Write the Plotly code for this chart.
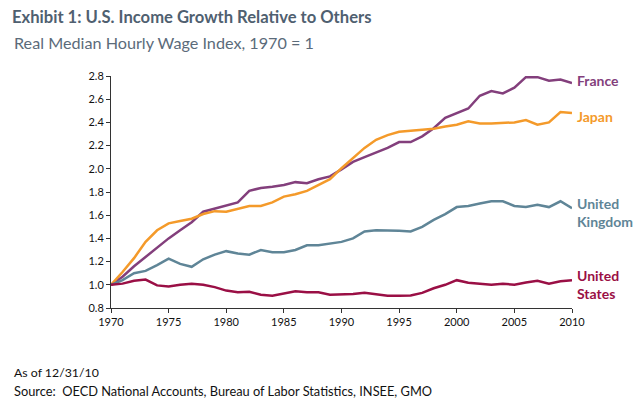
import plotly.graph_objects as go

years = list(range(1970, 2011))

france = [1.00, 1.07, 1.16, 1.24, 1.32, 1.40, 1.47, 1.54, 1.63, 1.655, 1.68, 1.71, 1.81, 1.835, 1.845,
          1.86, 1.885, 1.875, 1.91, 1.935, 1.995, 2.06, 2.10, 2.14, 2.18, 2.23, 2.23, 2.28, 2.35, 2.44,
          2.48, 2.52, 2.63, 2.67, 2.65, 2.70, 2.79, 2.79, 2.76, 2.77, 2.74]
japan = [1.00, 1.11, 1.23, 1.37, 1.47, 1.53, 1.55, 1.57, 1.61, 1.635, 1.63, 1.655, 1.68, 1.68, 1.71,
         1.76, 1.78, 1.81, 1.86, 1.91, 2.005, 2.09, 2.18, 2.25, 2.29, 2.32, 2.33, 2.34, 2.345, 2.365,
         2.38, 2.41, 2.39, 2.39, 2.395, 2.40, 2.42, 2.38, 2.40, 2.49, 2.48]
uk = [1.00, 1.04, 1.10, 1.12, 1.17, 1.225, 1.18, 1.155, 1.22, 1.26, 1.29, 1.27, 1.26, 1.30, 1.28,
      1.28, 1.30, 1.34, 1.34, 1.355, 1.37, 1.40, 1.46, 1.47, 1.47, 1.465, 1.46, 1.50, 1.56, 1.61,
      1.67, 1.68, 1.70, 1.72, 1.72, 1.68, 1.67, 1.69, 1.67, 1.72, 1.66]
us = [1.00, 1.01, 1.035, 1.045, 0.995, 0.985, 1.00, 1.01, 1.00, 0.98, 0.95, 0.935, 0.94, 0.915, 0.905,
      0.925, 0.945, 0.935, 0.935, 0.915, 0.918, 0.92, 0.932, 0.92, 0.905, 0.905, 0.908, 0.93, 0.97, 1.00,
      1.04, 1.017, 1.01, 1.00, 1.01, 1.00, 1.02, 1.035, 1.01, 1.03, 1.04]

series_names = ["France", "Japan", "United<br>Kingdom", "United<br>States"]
series_values = [france, japan, uk, us]
series_colors = ["#833f7c", "#f49a2a", "#5f8597", "#9a0f45"]
label_values = [2.76, 2.45, 1.62, 1.0]

x_ticks = list(range(1970, 2011, 5))
y_ticks = [0.8, 1.0, 1.2, 1.4, 1.6, 1.8, 2.0, 2.2, 2.4, 2.6, 2.8]

W, H = 643, 415
L, R, T, B = 111, 71, 76, 107

fig = go.Figure()
for name, vals, col in zip(series_names, series_values, series_colors):
    fig.add_trace(go.Scatter(x=years, y=vals, mode="lines", name=name,
                             line=dict(color=col, width=2.5), showlegend=False))

for name, lv, col in zip(series_names, label_values, series_colors):
    fig.add_annotation(x=2010, y=lv, xref="x", yref="y", text="<b>" + name + "</b>",
                       showarrow=False, xanchor="left", yanchor="middle", xshift=3,
                       align="left", font=dict(family="Lato", size=14, color=col))

pw, ph = W - L - R, H - T - B
def px_x(p):
    return (p - L) / pw
def px_y(p):
    return (H - B - p) / ph

fig.add_annotation(x=px_x(12), y=px_y(42), xref="paper", yref="paper",
                   text="Real Median Hourly Wage Index, 1970 = 1", showarrow=False,
                   xanchor="left", yanchor="middle",
                   font=dict(family="Lato", size=16.2, color="#5b6b7a"))
fig.add_annotation(x=px_x(12), y=px_y(372), xref="paper", yref="paper",
                   text="As of 12/31/10", showarrow=False, xanchor="left", yanchor="middle",
                   font=dict(family="Lato", size=12.3, color="#111111"))
fig.add_annotation(x=px_x(12), y=px_y(391), xref="paper", yref="paper",
                   text="Source:&nbsp; OECD National Accounts, Bureau of Labor Statistics, INSEE, GMO",
                   showarrow=False, xanchor="left", yanchor="middle",
                   font=dict(family="Lato", size=12.8, color="#111111"))

fig.update_layout(
    width=W, height=H,
    margin=dict(l=L, r=R, t=T, b=B),
    paper_bgcolor="white", plot_bgcolor="white",
    title=dict(text="<b>Exhibit 1: U.S. Income Growth Relative to Others</b>",
               x=12 / W, xanchor="left", y=1 - 17 / H, yanchor="middle",
               font=dict(family="Lato", size=16.6, color="#4f6070")),
    xaxis=dict(range=[1970, 2010], tickvals=x_ticks, showgrid=False, zeroline=False,
               showline=True, linecolor="#333333", linewidth=1, ticks="outside",
               ticklen=4, tickcolor="#333333",
               tickfont=dict(family="Lato", size=11, color="#111111")),
    yaxis=dict(range=[0.8, 2.8], tickvals=y_ticks, tickformat=".1f", showgrid=False,
               zeroline=False, showline=True, linecolor="#333333", linewidth=1,
               ticks="outside", ticklen=4, tickcolor="#333333",
               tickfont=dict(family="Lato", size=11, color="#111111")),
)

fig.write_html("out.html", config={"displayModeBar": False},
               post_script="document.body.style.margin='0';")
